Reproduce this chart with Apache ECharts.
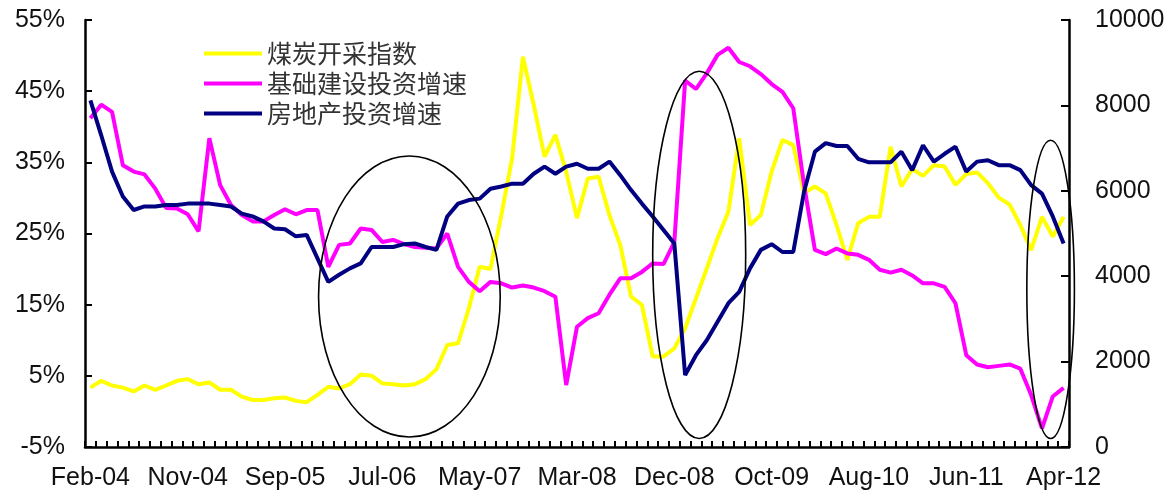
<!DOCTYPE html>
<html>
<head>
<meta charset="utf-8">
<script src="https://cdn.jsdelivr.net/npm/echarts@6/dist/echarts.min.js"></script>
<style>
  html, body { margin: 0; padding: 0; background: #fff; }
  #chart { width: 1174px; height: 495px; }
</style>
</head>
<body>
<div id="chart"></div>
<script>
// Monthly observations (January is merged into February in the source statistics)
const months = [
  'Feb-04','Mar-04','Apr-04','May-04','Jun-04','Jul-04','Aug-04','Sep-04','Oct-04','Nov-04','Dec-04',
  'Feb-05','Mar-05','Apr-05','May-05','Jun-05','Jul-05','Aug-05','Sep-05','Oct-05','Nov-05','Dec-05',
  'Feb-06','Mar-06','Apr-06','May-06','Jun-06','Jul-06','Aug-06','Sep-06','Oct-06','Nov-06','Dec-06',
  'Feb-07','Mar-07','Apr-07','May-07','Jun-07','Jul-07','Aug-07','Sep-07','Oct-07','Nov-07','Dec-07',
  'Feb-08','Mar-08','Apr-08','May-08','Jun-08','Jul-08','Aug-08','Sep-08','Oct-08','Nov-08','Dec-08',
  'Feb-09','Mar-09','Apr-09','May-09','Jun-09','Jul-09','Aug-09','Sep-09','Oct-09','Nov-09','Dec-09',
  'Feb-10','Mar-10','Apr-10','May-10','Jun-10','Jul-10','Aug-10','Sep-10','Oct-10','Nov-10','Dec-10',
  'Feb-11','Mar-11','Apr-11','May-11','Jun-11','Jul-11','Aug-11','Sep-11','Oct-11','Nov-11','Dec-11',
  'Feb-12','Mar-12','Apr-12'
];

// 煤炭开采指数 (right axis, index points)
const coalIndex = [
  1390,1550,1440,1390,1300,1440,1340,1440,1550,1590,1470,
  1510,1340,1340,1180,1100,1100,1140,1160,1080,1050,1220,
  1410,1370,1470,1700,1670,1490,1470,1440,1470,1590,1820,
  2390,2430,3250,4220,4170,5430,6760,9140,8010,6800,7310,
  6450,5360,6290,6330,5430,4730,3520,3330,2120,2120,2310,
  2780,3480,4180,4890,5510,7230,5200,5430,6450,7190,7070,
  5950,6100,5940,5200,4380,5240,5390,5390,7030,6100,6510,
  6350,6600,6570,6140,6390,6430,6180,5840,5680,5200,4610,
  5390,4930,5390
];

// 基础建设投资增速 (left axis, %)
const infraGrowth = [
  41.2,43.1,42.1,34.6,33.7,33.3,31.3,28.6,28.5,27.7,25.3,
  38.4,31.8,29.0,27.6,26.7,26.7,27.6,28.4,27.7,28.3,28.3,
  20.3,23.4,23.6,25.7,25.5,23.8,24.1,23.5,23.1,23.0,22.9,
  25.0,20.3,18.2,16.9,18.2,18.0,17.4,17.7,17.4,16.9,16.1,
  3.7,11.9,13.1,13.8,16.4,18.7,18.7,19.6,20.8,20.7,23.8,
  46.5,45.3,47.5,50.1,51.1,49.1,48.5,47.4,46.0,44.9,42.6,
  31.8,22.7,22.1,22.9,22.2,22.0,21.3,19.9,19.5,19.9,19.1,
  18.0,18.0,17.5,15.2,7.9,6.6,6.2,6.4,6.6,6.0,2.3,
  -2.4,2.1,3.3
];

// 房地产投资增速 (left axis, %)
const realEstateGrowth = [
  43.7,38.8,33.7,30.2,28.3,28.8,28.8,29.0,29.0,29.2,29.2,
  29.2,29.0,28.8,27.8,27.4,26.7,25.7,25.6,24.6,24.8,21.5,
  18.2,19.2,20.1,20.8,23.1,23.1,23.1,23.5,23.6,23.1,22.7,
  27.4,29.2,29.7,29.9,31.3,31.6,32.0,32.0,33.4,34.4,33.4,
  34.4,34.8,34.1,34.1,35.1,33.2,31.1,29.2,27.4,25.5,23.6,
  5.1,7.9,10.0,12.6,15.2,16.8,20.1,22.7,23.5,22.4,22.4,
  30.9,36.5,37.7,37.3,37.3,35.5,35.0,35.0,35.0,36.5,33.9,
  37.4,35.1,36.2,37.2,33.7,35.1,35.3,34.6,34.6,33.9,31.8,
  30.6,27.4,23.6
];

// Left axis tick values (%)
const pctTicks = [-5, 5, 15, 25, 35, 45, 55];

// Highlighted periods: category span and left-axis value span
const rings = [
  { from: 21.1, to: 37.9, top: 35.9, bottom: -3.6 },
  { from: 52.0, to: 60.6, top: 47.8, bottom: -3.8 },
  { from: 86.6, to: 91.0, top: 38.1, bottom: -3.8 }
];

const latin = '"Liberation Sans", Arial, sans-serif';
const cjk = '"Noto Sans CJK SC", sans-serif';

const chart = echarts.init(document.getElementById('chart'));

chart.setOption({
  animation: false,
  backgroundColor: '#fff',
  grid: { left: 85, right: 105, top: 20, bottom: 48, containLabel: false },
  legend: {
    orient: 'vertical',
    left: 199,
    top: 36,
    icon: 'rect',
    itemWidth: 58,
    itemHeight: 4,
    itemGap: 5,
    textStyle: {
      fontFamily: cjk,
      fontSize: 25,
      lineHeight: 25,
      color: '#333'
    },
    data: ['煤炭开采指数', '基础建设投资增速', '房地产投资增速']
  },
  xAxis: {
    type: 'category',
    data: months,
    boundaryGap: true,
    axisLine: { show: true, onZero: false, lineStyle: { color: '#000', width: 2.5 } },
    axisTick: {
      show: true,
      interval: 0,
      alignWithLabel: false,
      inside: true,
      length: 6,
      lineStyle: { color: '#000', width: 2 }
    },
    axisLabel: {
      interval: 8,
      margin: 19,
      color: '#111',
      fontFamily: latin,
      fontSize: 25
    },
    splitLine: { show: false }
  },
  yAxis: [
    {
      type: 'value',
      position: 'left',
      min: -5,
      max: 55,
      axisLine: { show: true, onZero: false, lineStyle: { color: '#000', width: 2.5 } },
      axisTick: { show: true, inside: true, length: 7, customValues: pctTicks, lineStyle: { color: '#000', width: 2 } },
      axisLabel: {
        customValues: pctTicks,
        margin: 20,
        color: '#111',
        fontFamily: latin,
        fontSize: 25,
        formatter: v => v + '%'
      },
      splitLine: { show: false }
    },
    {
      type: 'value',
      position: 'right',
      min: 0,
      max: 10000,
      interval: 2000,
      axisLine: { show: true, onZero: false, lineStyle: { color: '#000', width: 2.5 } },
      axisTick: { show: true, inside: true, length: 8, lineStyle: { color: '#000', width: 2 } },
      axisLabel: {
        margin: 26,
        color: '#111',
        fontFamily: latin,
        fontSize: 25,
        formatter: v => String(v)
      },
      splitLine: { show: false }
    }
  ],
  series: [
    {
      name: '煤炭开采指数',
      type: 'line',
      yAxisIndex: 1,
      data: coalIndex,
      showSymbol: false,
      symbol: 'none',
      color: '#FFFF00',
      lineStyle: { color: '#FFFF00', width: 4 }
    },
    {
      name: '基础建设投资增速',
      type: 'line',
      yAxisIndex: 0,
      data: infraGrowth,
      showSymbol: false,
      symbol: 'none',
      color: '#FF00FF',
      lineStyle: { color: '#FF00FF', width: 4 }
    },
    {
      name: '房地产投资增速',
      type: 'line',
      yAxisIndex: 0,
      data: realEstateGrowth,
      showSymbol: false,
      symbol: 'none',
      color: '#000080',
      lineStyle: { color: '#000080', width: 4 }
    }
  ]
});

// Outline the highlighted periods with ellipses placed through the axes
const x0 = chart.convertToPixel({ xAxisIndex: 0 }, months[0]);
const x1 = chart.convertToPixel({ xAxisIndex: 0 }, months[months.length - 1]);
const step = (x1 - x0) / (months.length - 1);
const xAt = i => x0 + i * step;
const yAt = v => chart.convertToPixel({ yAxisIndex: 0 }, v);

chart.setOption({
  graphic: rings.map(r => {
    const left = xAt(r.from), right = xAt(r.to);
    const top = yAt(r.top), bottom = yAt(r.bottom);
    return {
      type: 'ellipse',
      z: 100,
      silent: true,
      shape: {
        cx: (left + right) / 2,
        cy: (top + bottom) / 2,
        rx: (right - left) / 2,
        ry: (bottom - top) / 2
      },
      style: { fill: null, stroke: '#000', lineWidth: 1.6 }
    };
  })
});
</script>
</body>
</html>
